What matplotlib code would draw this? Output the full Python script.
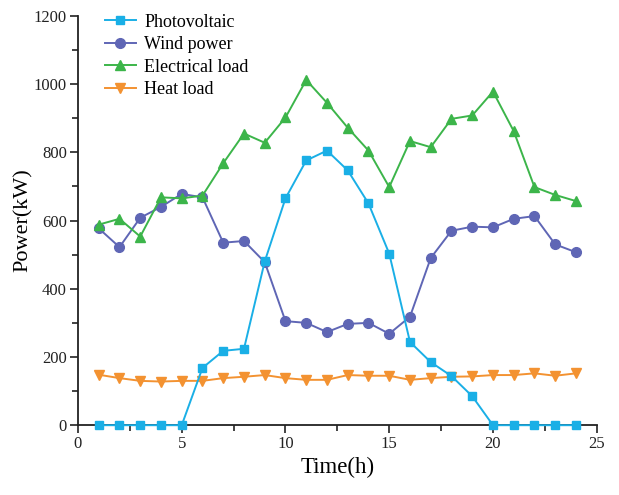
import matplotlib
matplotlib.use("Agg")
import matplotlib.pyplot as plt
from matplotlib.ticker import MultipleLocator

hours = list(range(1, 25))
photovoltaic = [0, 0, 0, 0, 0, 168, 218, 224, 480, 665, 776, 805, 747, 650, 503,
                244, 185, 144, 85, 0, 0, 0, 0, 0]
wind_power = [577, 522, 608, 640, 678, 668, 535, 540, 478, 305, 300, 273, 297, 300,
              268, 318, 490, 570, 582, 580, 605, 613, 530, 507]
electrical_load = [588, 605, 553, 668, 665, 673, 768, 855, 828, 902, 1012, 945, 872,
                   805, 698, 833, 815, 898, 908, 978, 862, 698, 675, 657]
heat_load = [148, 138, 130, 128, 130, 130, 138, 142, 147, 138, 133, 133, 147, 145,
             145, 133, 138, 142, 143, 147, 147, 152, 145, 152]
labels = ["Photovoltaic", "Wind power", "Electrical load", "Heat load"]

plt.rcParams['font.family'] = ['Liberation Serif', 'DejaVu Serif']

fig = plt.figure(figsize=(6.19, 4.95), dpi=100)
ax = fig.add_axes([0.126, 0.141, 0.838, 0.827])

ax.plot(hours, photovoltaic, '-s', color='#1AAFE6', lw=1.4, ms=6, label=labels[0], clip_on=False, zorder=3)
ax.plot(hours, wind_power, '-o', color='#5F66B5', lw=1.4, ms=7, label=labels[1], clip_on=False)
ax.plot(hours, electrical_load, '-^', color='#3CB54A', lw=1.4, ms=7.5, label=labels[2], clip_on=False)
ax.plot(hours, heat_load, '-v', color='#F39231', lw=1.4, ms=7.5, label=labels[3], clip_on=False)

ax.set_xlim(0, 25)
ax.set_ylim(0, 1200)
ax.xaxis.set_major_locator(MultipleLocator(5))
ax.xaxis.set_minor_locator(MultipleLocator(2.5))
ax.yaxis.set_major_locator(MultipleLocator(200))
ax.yaxis.set_minor_locator(MultipleLocator(100))
for s in ['top', 'right']:
    ax.spines[s].set_visible(False)
for s in ['left', 'bottom']:
    ax.spines[s].set_linewidth(1.3)
    ax.spines[s].set_color('#222222')
ax.tick_params(which='major', length=6, width=1.2, labelsize=12, colors='#222222', pad=2)
ax.tick_params(which='minor', length=4, width=1.2, colors='#222222')
ax.set_xlabel('Time(h)', fontsize=16.5, labelpad=3)
ax.set_ylabel('Power(kW)', fontsize=16, labelpad=1)

ax.legend(loc='upper left', bbox_to_anchor=(0.02, 1.045), frameon=False, fontsize=13,
          handlelength=1.75, labelspacing=0.3, handletextpad=0.45)

fig.savefig('out.png', dpi=100)
